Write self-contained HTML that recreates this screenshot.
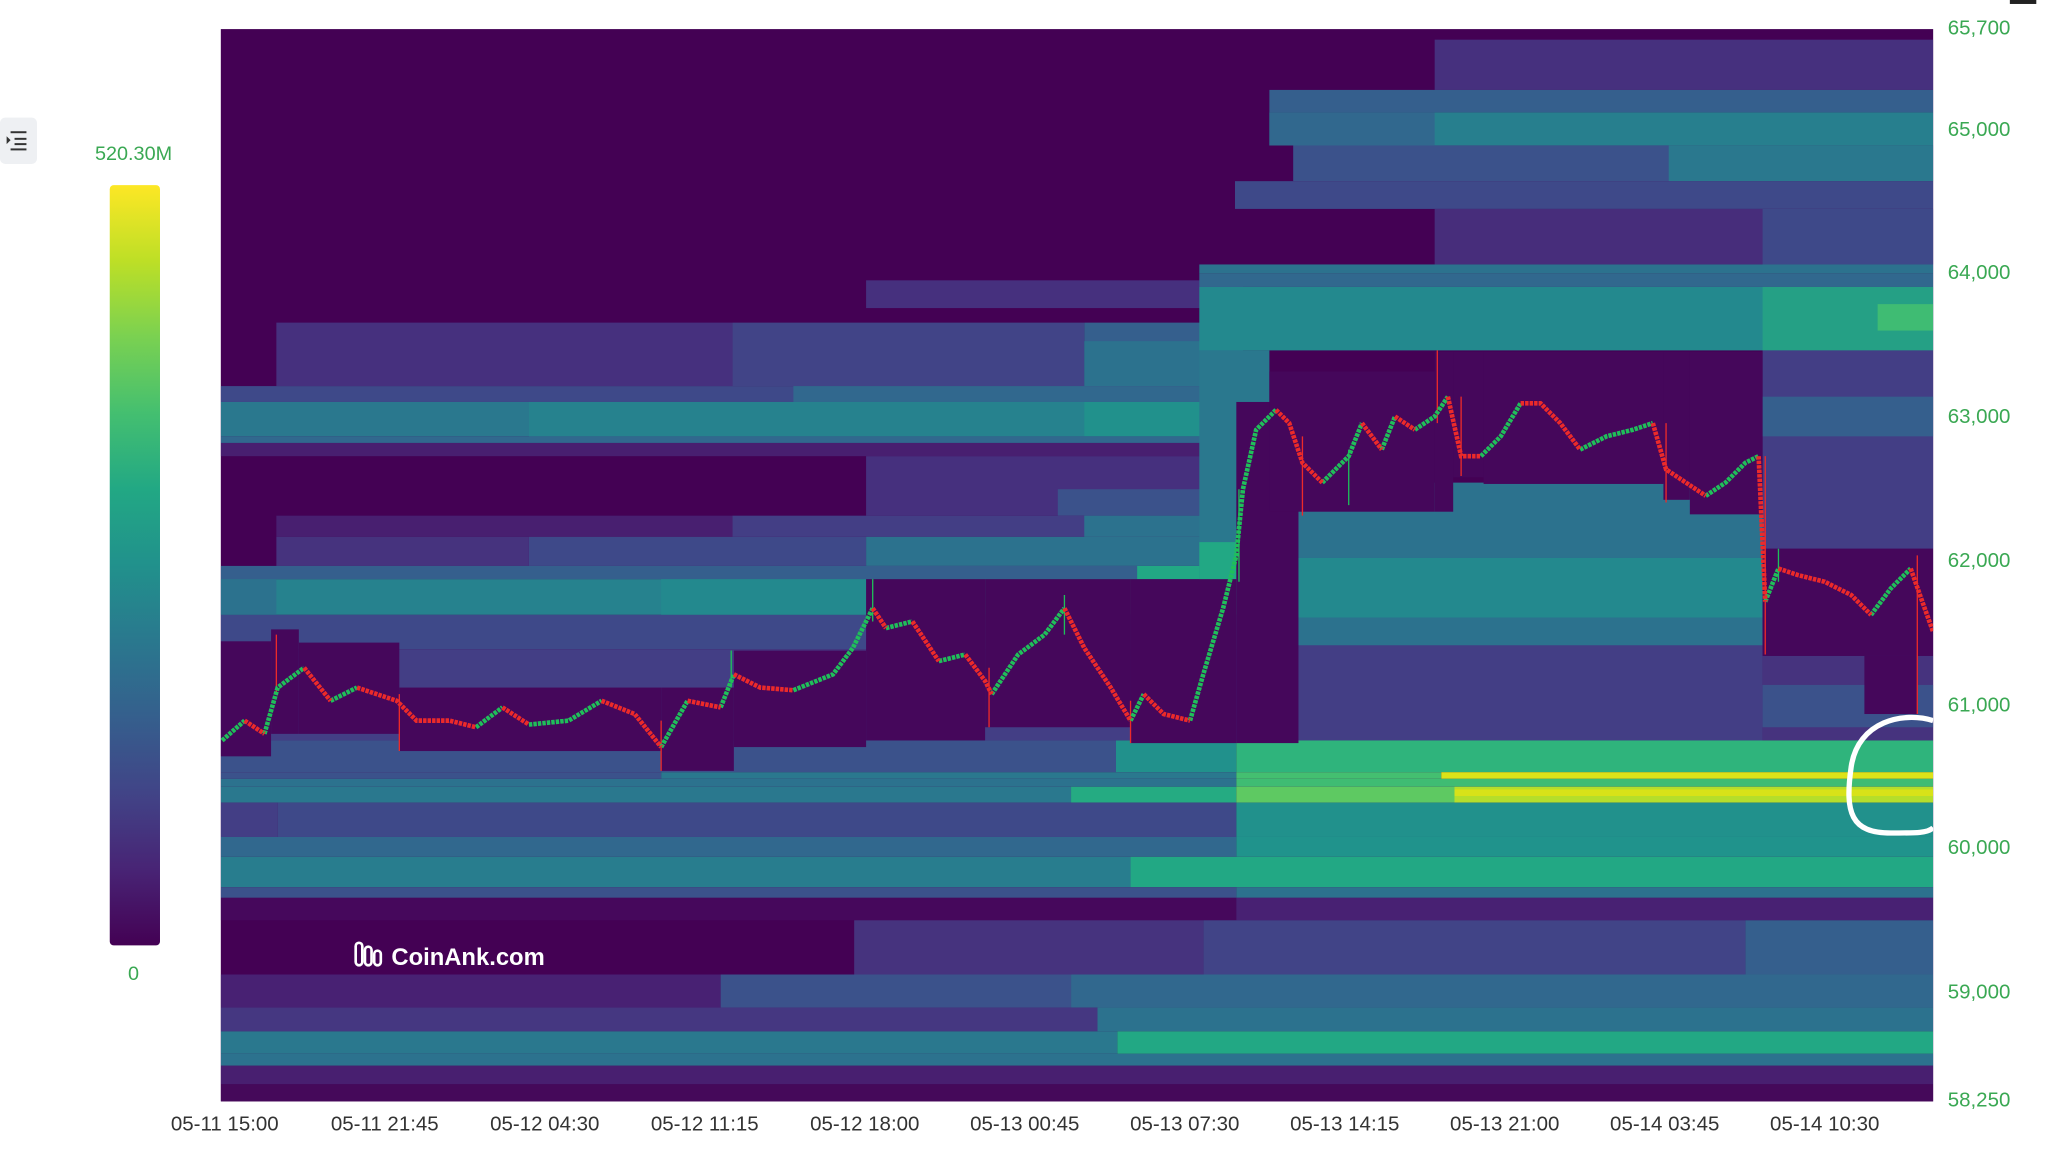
<!DOCTYPE html>
<html><head><meta charset="utf-8"><style>
html,body{margin:0;padding:0;background:#fff;width:2072px;height:1153px;overflow:hidden}
svg{display:block}
text{font-family:"Liberation Sans",sans-serif}
</style></head><body>
<svg width="2072" height="1153" viewBox="0 0 1567 872" preserveAspectRatio="none" xmlns="http://www.w3.org/2000/svg">
<defs>
<linearGradient id="cb" x1="0" y1="1" x2="0" y2="0">
<stop offset="0" stop-color="#440154"/><stop offset="0.1" stop-color="#482475"/><stop offset="0.2" stop-color="#414487"/><stop offset="0.3" stop-color="#355f8d"/><stop offset="0.4" stop-color="#2a788e"/><stop offset="0.5" stop-color="#21918c"/><stop offset="0.6" stop-color="#22a884"/><stop offset="0.7" stop-color="#44bf70"/><stop offset="0.8" stop-color="#7ad151"/><stop offset="0.9" stop-color="#bddf26"/><stop offset="1" stop-color="#fde725"/>
</linearGradient>
<clipPath id="pc"><rect x="167" y="22" width="1295" height="811"/></clipPath>
</defs>
<rect x="167" y="22" width="1295" height="811" fill="#440154"/>
<g clip-path="url(#pc)">
<!-- upper left -->
<rect x="655" y="212" width="285" height="21" fill="#46307e"/>
<rect x="209" y="244" width="345" height="48" fill="#46307e"/>
<rect x="554" y="244" width="266" height="48" fill="#414487"/>
<rect x="820" y="244" width="120" height="48" fill="#355f8d"/>
<rect x="820" y="258" width="120" height="34" fill="#2c728e"/>
<rect x="167" y="292" width="773" height="12" fill="#3e4989"/>
<rect x="600" y="292" width="340" height="12" fill="#31688e"/>
<rect x="167" y="304" width="773" height="26" fill="#2a788e"/>
<rect x="400" y="304" width="420" height="26" fill="#26828e"/>
<rect x="820" y="304" width="120" height="26" fill="#21918c"/>
<rect x="167" y="330" width="773" height="5" fill="#31688e"/>
<rect x="167" y="335" width="773" height="10" fill="#481f70"/>
<rect x="655" y="345" width="285" height="45" fill="#46307e"/>
<rect x="800" y="370" width="140" height="20" fill="#3b528b"/>
<rect x="209" y="390" width="345" height="16" fill="#481f70"/>
<rect x="554" y="390" width="386" height="16" fill="#433e85"/>
<rect x="820" y="390" width="120" height="16" fill="#2c728e"/>
<rect x="209" y="406" width="191" height="22" fill="#46337e"/>
<rect x="400" y="406" width="255" height="22" fill="#3e4989"/>
<rect x="655" y="406" width="285" height="22" fill="#2c728e"/>
<rect x="167" y="428" width="773" height="10" fill="#355f8d"/>
<rect x="860" y="428" width="80" height="10" fill="#22a884"/>
<rect x="167" y="438" width="773" height="27" fill="#26828e"/>
<rect x="167" y="438" width="42" height="27" fill="#2c728e"/>
<rect x="500" y="438" width="155" height="27" fill="#23898e"/>
<rect x="167" y="465" width="773" height="26" fill="#3e4989"/>
<rect x="167" y="491" width="773" height="69" fill="#433e85"/>
<!-- upper right -->
<rect x="1085" y="30" width="377" height="38" fill="#46307e"/>
<rect x="960" y="68" width="502" height="17" fill="#355f8d"/>
<rect x="960" y="85" width="502" height="25" fill="#277f8e"/>
<rect x="960" y="85" width="125" height="25" fill="#31688e"/>
<rect x="978" y="110" width="484" height="27" fill="#3b528b"/>
<rect x="1262" y="110" width="200" height="27" fill="#2a788e"/>
<rect x="934" y="137" width="528" height="21" fill="#3e4989"/>
<rect x="1085" y="158" width="377" height="42" fill="#472d7b"/>
<rect x="1333" y="158" width="129" height="42" fill="#3e4989"/>
<rect x="907" y="200" width="555" height="7" fill="#2c728e"/>
<rect x="907" y="207" width="555" height="10" fill="#31688e"/>
<rect x="907" y="217" width="555" height="48" fill="#23898e"/>
<rect x="1333" y="217" width="129" height="48" fill="#25a085"/>
<rect x="1420" y="230" width="42" height="20" fill="#3fbc73"/>
<rect x="907" y="265" width="53" height="175" fill="#2a788e"/>
<rect x="907" y="410" width="53" height="30" fill="#22a884"/>
<rect x="940" y="365" width="393" height="195" fill="#2c728e"/>
<rect x="940" y="422" width="393" height="45" fill="#23898e"/>
<rect x="940" y="488" width="393" height="72" fill="#433e85"/>
<rect x="1333" y="265" width="129" height="150" fill="#433e85"/>
<rect x="1333" y="300" width="129" height="30" fill="#355f8d"/>
<rect x="1333" y="496" width="129" height="64" fill="#46337e"/>
<rect x="1333" y="518" width="129" height="32" fill="#3b528b"/>
<!-- lower -->
<rect x="167" y="560" width="677" height="24" fill="#3b528b"/>
<rect x="844" y="560" width="91" height="24" fill="#21918c"/>
<rect x="935" y="560" width="527" height="24" fill="#2fb47c"/>
<rect x="167" y="584" width="333" height="5" fill="#3b528b"/>
<rect x="500" y="584" width="435" height="5" fill="#2a788e"/>
<rect x="935" y="584" width="155" height="5" fill="#44bf70"/>
<rect x="1090" y="584" width="372" height="5" fill="#dde318"/>
<rect x="167" y="589" width="768" height="6" fill="#2c728e"/>
<rect x="935" y="589" width="527" height="6" fill="#3fbc73"/>
<rect x="167" y="595" width="643" height="12" fill="#2a788e"/>
<rect x="810" y="595" width="125" height="12" fill="#25ab82"/>
<rect x="935" y="595" width="165" height="12" fill="#5ec962"/>
<rect x="1100" y="595" width="362" height="12" fill="#b5de2b"/>
<rect x="1100" y="597" width="362" height="5" fill="#d8e219"/>
<rect x="167" y="607" width="43" height="26" fill="#433e85"/>
<rect x="210" y="607" width="725" height="26" fill="#3e4989"/>
<rect x="935" y="607" width="527" height="26" fill="#21918c"/>
<rect x="167" y="633" width="768" height="15" fill="#31688e"/>
<rect x="935" y="633" width="527" height="15" fill="#20938c"/>
<rect x="167" y="648" width="688" height="23" fill="#287d8e"/>
<rect x="855" y="648" width="607" height="23" fill="#22a884"/>
<rect x="167" y="671" width="768" height="8" fill="#3b528b"/>
<rect x="935" y="671" width="527" height="8" fill="#2c728e"/>
<rect x="167" y="679" width="768" height="17" fill="#46085c"/>
<rect x="935" y="679" width="527" height="17" fill="#482173"/>
<rect x="646" y="696" width="264" height="41" fill="#46337e"/>
<rect x="910" y="696" width="410" height="41" fill="#414487"/>
<rect x="1320" y="696" width="142" height="41" fill="#355f8d"/>
<rect x="167" y="737" width="378" height="25" fill="#482173"/>
<rect x="545" y="737" width="265" height="25" fill="#3b528b"/>
<rect x="810" y="737" width="652" height="25" fill="#31688e"/>
<rect x="167" y="762" width="663" height="18" fill="#453781"/>
<rect x="830" y="762" width="632" height="18" fill="#2c728e"/>
<rect x="167" y="780" width="678" height="17" fill="#2a788e"/>
<rect x="845" y="780" width="617" height="17" fill="#22a884"/>
<rect x="167" y="797" width="1295" height="9" fill="#2c728e"/>
<rect x="167" y="806" width="1295" height="14" fill="#481f70"/>
<rect x="167" y="820" width="1295" height="13" fill="#45095a"/>
<!-- dark boxes -->
<g fill="#45075b">
<rect x="167" y="485" width="38" height="87"/>
<rect x="205" y="476" width="21" height="79"/>
<rect x="226" y="486" width="76" height="69"/>
<rect x="302" y="520" width="198" height="48"/>
<rect x="500" y="520" width="55" height="63"/>
<rect x="555" y="492" width="100" height="73"/>
<rect x="655" y="438" width="90" height="122"/>
<rect x="745" y="438" width="110" height="112"/>
<rect x="855" y="438" width="80" height="124"/>
<rect x="935" y="304" width="47" height="258"/>
<rect x="960" y="281" width="125" height="106"/>
<rect x="1085" y="266" width="14" height="121"/>
<rect x="1099" y="266" width="23" height="95"/>
<rect x="1122" y="266" width="136" height="100"/>
<rect x="1258" y="266" width="20" height="112"/>
<rect x="1278" y="266" width="55" height="123"/>
<rect x="1333" y="415" width="129" height="81"/>
<rect x="1410" y="496" width="40" height="44"/>
</g>
<g stroke-width="1" fill="none">
<path stroke="#ec2a2a" d="M209 480V525M302 525V568M500 545V583M748 505V550M855 530V562M1087 265V320M1335 345V495M1450 420V540M985 330V390M1105 300V360M1260 320V380"/>
<path stroke="#1fbf5a" d="M553 492V520M660 438V470M805 450V480M1020 340V382M937 370V440M1345 415V440"/>
</g>
<g fill="none" stroke-width="3.5" stroke-dasharray="2.6 0.8">
<path stroke="#1fbf5a" d="M168 560L185 545M200 555L210 520L230 505M250 530L270 520M360 550L380 535M400 548L430 545L455 530M500 565L520 530M545 535L555 510M600 522L630 510L645 490L660 460M670 475L690 470M710 500L730 495M750 525L770 495L790 480L805 460M855 545L865 525M900 545L910 510L925 460L935 420L940 370L950 325L965 310M1000 365L1020 345L1030 320M1045 340L1055 315M1070 325L1085 315L1095 300M1120 345L1135 330L1150 305M1195 340L1215 330L1235 325L1250 320M1290 375L1305 365L1320 350L1330 345M1335 455L1345 430M1415 465L1430 445L1445 430"/>
<path stroke="#ec2a2a" d="M185 545L200 555M230 505L250 530M270 520L300 530L315 545L340 545L360 550M380 535L400 548M455 530L480 540L500 565M520 530L545 535M555 510L575 520L600 522M660 460L670 475M690 470L710 500M730 495L745 515L750 525M805 460L820 490L840 520L855 545M865 525L880 540L900 545M965 310L975 320L985 350L1000 365M1030 320L1045 340M1055 315L1070 325M1095 300L1105 345L1120 345M1150 305L1165 305L1180 320L1195 340M1250 320L1260 355L1275 365L1290 375M1330 345L1335 455M1345 430L1360 435L1380 440L1400 450L1415 465M1445 430L1452 450L1462 478"/>
</g>
<path d="M1462 545 C1440 538 1405 545 1400 580 C1395 615 1400 630 1430 630 C1450 630 1458 630 1462 626" fill="none" stroke="#fff" stroke-width="4"/>
</g>
<rect x="1520" y="0" width="20" height="3" fill="#222"/>
<rect x="0" y="89" width="28" height="35" rx="4" fill="#eef0f3"/>
<g stroke="#333" stroke-width="1.5"><line x1="8" y1="100" x2="20" y2="100"/><line x1="11" y1="105" x2="20" y2="105"/><line x1="11" y1="109" x2="20" y2="109"/><line x1="8" y1="113" x2="20" y2="113"/></g>
<path d="M5 103 L8 106 L5 109Z" fill="#333"/>
<rect x="83" y="140" width="38" height="575" rx="3" fill="url(#cb)"/>
<text x="101" y="121" font-size="15" fill="#3aa853" text-anchor="middle">520.30M</text>
<text x="101" y="741" font-size="15" fill="#3aa853" text-anchor="middle">0</text>
<g font-size="15.5" fill="#3aa853">
<text x="1473" y="26">65,700</text><text x="1473" y="103">65,000</text><text x="1473" y="211">64,000</text><text x="1473" y="320">63,000</text><text x="1473" y="429">62,000</text><text x="1473" y="538">61,000</text><text x="1473" y="646">60,000</text><text x="1473" y="755">59,000</text><text x="1473" y="837">58,250</text>
</g>
<g font-size="15.5" fill="#333" text-anchor="middle">
<text x="170" y="855">05-11 15:00</text><text x="291" y="855">05-11 21:45</text><text x="412" y="855">05-12 04:30</text><text x="533" y="855">05-12 11:15</text><text x="654" y="855">05-12 18:00</text><text x="775" y="855">05-13 00:45</text><text x="896" y="855">05-13 07:30</text><text x="1017" y="855">05-13 14:15</text><text x="1138" y="855">05-13 21:00</text><text x="1259" y="855">05-14 03:45</text><text x="1380" y="855">05-14 10:30</text>
</g>
<g fill="none" stroke="#fff" stroke-width="2"><rect x="269" y="713" width="5" height="17" rx="2.5"/><rect x="276" y="716" width="5" height="14" rx="2.5"/><rect x="283" y="719" width="5" height="11" rx="2.5"/></g>
<text x="296" y="730" font-size="18" font-weight="bold" fill="#fff">CoinAnk.com</text>
</svg>
</body></html>
